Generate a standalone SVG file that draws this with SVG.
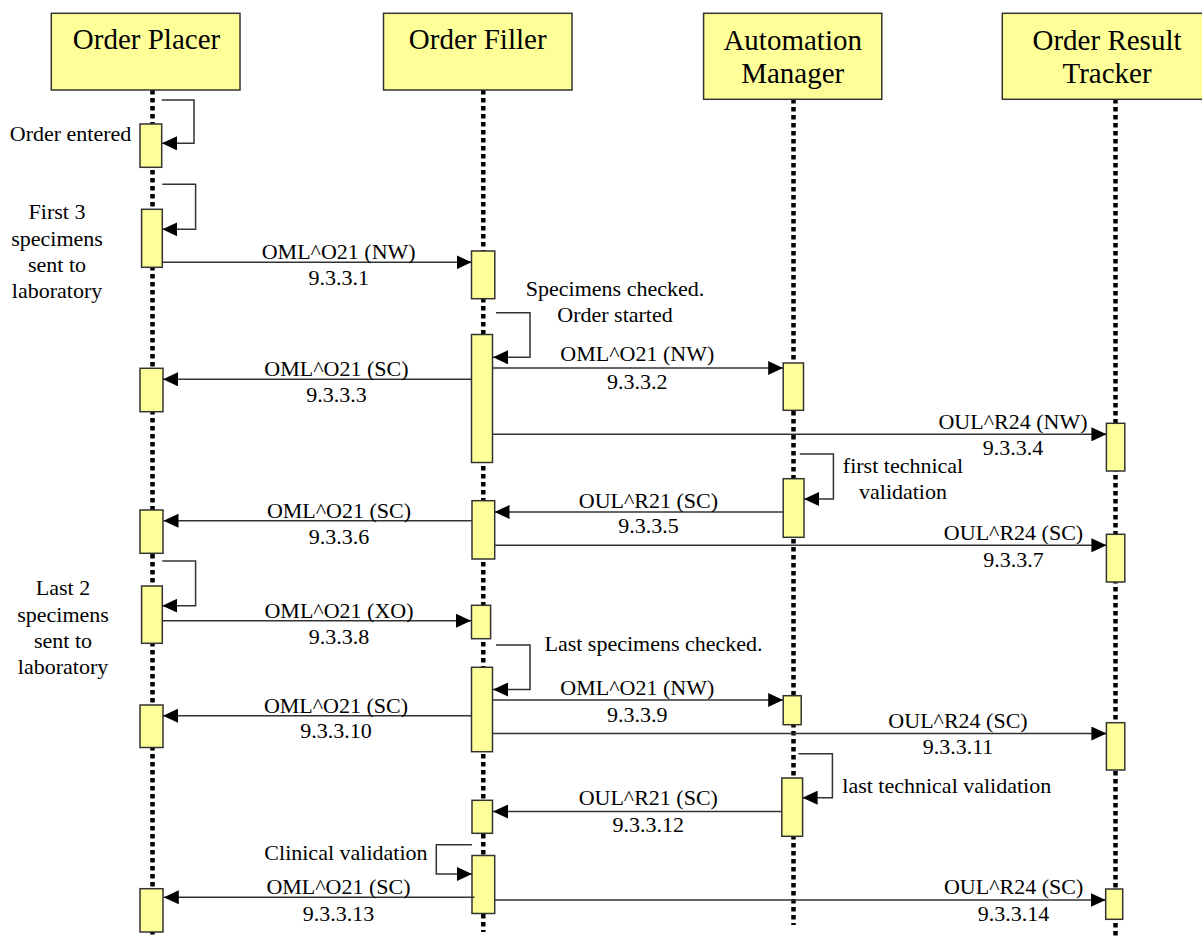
<svg xmlns="http://www.w3.org/2000/svg" width="1202" height="936" viewBox="0 0 1202 936">
<style>
.hdr{fill:#ffff99;stroke:#333;stroke-width:1.5}
.ht{font-family:"Liberation Serif","Times New Roman",serif;font-size:29px;fill:#000;text-anchor:middle}
.life{stroke:#000;stroke-width:4.5;stroke-dasharray:4.5 3.5;fill:none}
.act{fill:#ffff99;stroke:#333;stroke-width:1.5}
.msg{stroke:#333;stroke-width:1.5;fill:none;marker-end:url(#ah)}
.t{font-family:"Liberation Serif","Times New Roman",serif;font-size:22px;fill:#000}
.m{text-anchor:middle}
.e{text-anchor:end}
</style>
<defs>
<marker id="ah" viewBox="0 0 15 14" refX="15" refY="7" markerWidth="15" markerHeight="14" markerUnits="userSpaceOnUse" orient="auto">
<path d="M0,0 L15,7 L0,14 z" fill="#000"/>
</marker>
</defs>
<rect width="1202" height="936" fill="#fff"/>

<g id="lifelines">
<line class="life" x1="152.5" y1="90" x2="152.5" y2="936"/>
<line class="life" x1="483.3" y1="90" x2="483.3" y2="932"/>
<line class="life" x1="793.5" y1="99" x2="793.5" y2="925"/>
<line class="life" x1="1115.5" y1="99" x2="1115.5" y2="936"/>
</g>

<g id="order-placer">
<rect class="hdr" x="51.3" y="13.3" width="188.7" height="76.7"/>
<text class="ht" x="146.5" y="49.3">Order Placer</text>
</g>
<g id="order-filler">
<rect class="hdr" x="383.5" y="13.3" width="188.5" height="76.7"/>
<text class="ht" x="477.7" y="49.3">Order Filler</text>
</g>
<g id="automation-manager">
<rect class="hdr" x="703.6" y="13.3" width="178.2" height="86"/>
<text class="ht" x="792.7" y="50">Automation</text>
<text class="ht" x="792.7" y="83.3">Manager</text>
</g>
<g id="order-result-tracker">
<rect class="hdr" x="1002.3" y="13.3" width="210" height="86"/>
<text class="ht" x="1107" y="50">Order Result</text>
<text class="ht" x="1107" y="83.3">Tracker</text>
</g>

<g id="activations">
<rect class="act" x="140" y="124" width="21.7" height="43.3"/>
<rect class="act" x="141.6" y="209.3" width="20.7" height="58"/>
<rect class="act" x="140" y="368.3" width="23" height="43.4"/>
<rect class="act" x="140" y="510" width="23" height="43.3"/>
<rect class="act" x="141.6" y="586" width="20.7" height="57.3"/>
<rect class="act" x="140" y="705" width="23" height="42.5"/>
<rect class="act" x="140" y="888.7" width="23" height="43.3"/>
<rect class="act" x="471.5" y="251" width="23.3" height="47.7"/>
<rect class="act" x="471.5" y="334.5" width="21" height="128"/>
<rect class="act" x="472" y="500.7" width="22.7" height="58.3"/>
<rect class="act" x="471.5" y="605.3" width="19.1" height="33.4"/>
<rect class="act" x="471.5" y="667.3" width="21" height="84.4"/>
<rect class="act" x="472" y="800.3" width="20.5" height="33"/>
<rect class="act" x="472" y="855.5" width="22.7" height="58"/>
<rect class="act" x="783.2" y="363" width="20.3" height="47.3"/>
<rect class="act" x="783.2" y="478.7" width="20.8" height="58.6"/>
<rect class="act" x="783.2" y="695.7" width="18" height="29"/>
<rect class="act" x="781.8" y="778" width="20.8" height="58.3"/>
<rect class="act" x="1106.4" y="423.3" width="18.4" height="47.7"/>
<rect class="act" x="1106.4" y="534.3" width="18.4" height="47.7"/>
<rect class="act" x="1106.4" y="722.7" width="18.4" height="47.3"/>
<rect class="act" x="1105.7" y="889" width="17" height="30.3"/>
</g>

<g id="connectors">
<path class="msg" d="M161.7,100 H194 V143.3 H162"/>
<path class="msg" d="M162.3,184.3 H195.6 V229.3 H162.3"/>
<path class="msg" d="M162.3,561 H195.6 V605.7 H162.3"/>
<path class="msg" d="M496,312.7 H530 V357.3 H493"/>
<path class="msg" d="M496,645 H530 V689.5 H493"/>
<path class="msg" d="M799.8,454 H833.4 V499 H804"/>
<path class="msg" d="M798.3,753.7 H832.4 V797.7 H802.6"/>
<path class="msg" d="M471.9,844.7 H436.3 V874 H472"/>

<line class="msg" x1="162.3" y1="262.3" x2="471.5" y2="262.3"/>
<line class="msg" x1="471.5" y1="379.3" x2="163" y2="379.3"/>
<line class="msg" x1="492.6" y1="368" x2="783.2" y2="368"/>
<line class="msg" x1="492.6" y1="434.3" x2="1106.4" y2="434.3"/>
<line class="msg" x1="783.2" y1="512" x2="494.5" y2="512"/>
<line class="msg" x1="472" y1="520.7" x2="163.5" y2="520.7"/>
<line class="msg" x1="494.7" y1="545.3" x2="1106.4" y2="545.3"/>
<line class="msg" x1="162.3" y1="620.7" x2="471" y2="620.7"/>
<line class="msg" x1="492.5" y1="700" x2="783.2" y2="700"/>
<line class="msg" x1="471.5" y1="715.7" x2="163" y2="715.7"/>
<line class="msg" x1="492.5" y1="733.5" x2="1106.4" y2="733.5"/>
<line class="msg" x1="781.8" y1="811.5" x2="493" y2="811.5"/>
<line class="msg" x1="474.5" y1="897.3" x2="163.8" y2="897.3"/>
<line class="msg" x1="494.7" y1="900" x2="1105.7" y2="900"/>
</g>

<g id="labels">
<text class="t e" x="131.3" y="141">Order entered</text>
<text class="t m" x="57" y="219.3">First 3</text>
<text class="t m" x="57" y="246">specimens</text>
<text class="t m" x="57" y="272">sent to</text>
<text class="t m" x="57" y="298.3">laboratory</text>
<text class="t m" x="615" y="295.5">Specimens checked.</text>
<text class="t m" x="615" y="322.3">Order started</text>
<text class="t m" x="903" y="472.7">first technical</text>
<text class="t m" x="903" y="499">validation</text>
<text class="t m" x="63" y="595">Last 2</text>
<text class="t m" x="63" y="621.7">specimens</text>
<text class="t m" x="63" y="647.7">sent to</text>
<text class="t m" x="63" y="674">laboratory</text>
<text class="t m" x="653.5" y="650.7">Last specimens checked.</text>
<text class="t" x="842.3" y="793.3">last technical validation</text>
<text class="t e" x="427.5" y="860">Clinical validation</text>

<text class="t m" x="338.7" y="258.5">OML^O21 (NW)</text>
<text class="t m" x="338.7" y="285">9.3.3.1</text>
<text class="t m" x="336.4" y="376">OML^O21 (SC)</text>
<text class="t m" x="336.4" y="402">9.3.3.3</text>
<text class="t m" x="637.3" y="361">OML^O21 (NW)</text>
<text class="t m" x="637.3" y="388.5">9.3.3.2</text>
<text class="t m" x="1013" y="428.5">OUL^R24 (NW)</text>
<text class="t m" x="1013" y="455.3">9.3.3.4</text>
<text class="t m" x="648.4" y="507.5">OUL^R21 (SC)</text>
<text class="t m" x="648.4" y="532.7">9.3.3.5</text>
<text class="t m" x="339" y="518.3">OML^O21 (SC)</text>
<text class="t m" x="339" y="544">9.3.3.6</text>
<text class="t m" x="1013.5" y="540">OUL^R24 (SC)</text>
<text class="t m" x="1013.5" y="566.7">9.3.3.7</text>
<text class="t m" x="339" y="618.3">OML^O21 (XO)</text>
<text class="t m" x="339" y="644">9.3.3.8</text>
<text class="t m" x="637.3" y="695">OML^O21 (NW)</text>
<text class="t m" x="637.3" y="721.7">9.3.3.9</text>
<text class="t m" x="336" y="713.3">OML^O21 (SC)</text>
<text class="t m" x="336" y="738.3">9.3.3.10</text>
<text class="t m" x="958" y="728.3">OUL^R24 (SC)</text>
<text class="t m" x="958" y="754">9.3.3.11</text>
<text class="t m" x="648.3" y="805">OUL^R21 (SC)</text>
<text class="t m" x="648.3" y="831.7">9.3.3.12</text>
<text class="t m" x="338.5" y="894.3">OML^O21 (SC)</text>
<text class="t m" x="338.5" y="920.7">9.3.3.13</text>
<text class="t m" x="1013.6" y="894.3">OUL^R24 (SC)</text>
<text class="t m" x="1013.6" y="920.7">9.3.3.14</text>
</g>
</svg>
